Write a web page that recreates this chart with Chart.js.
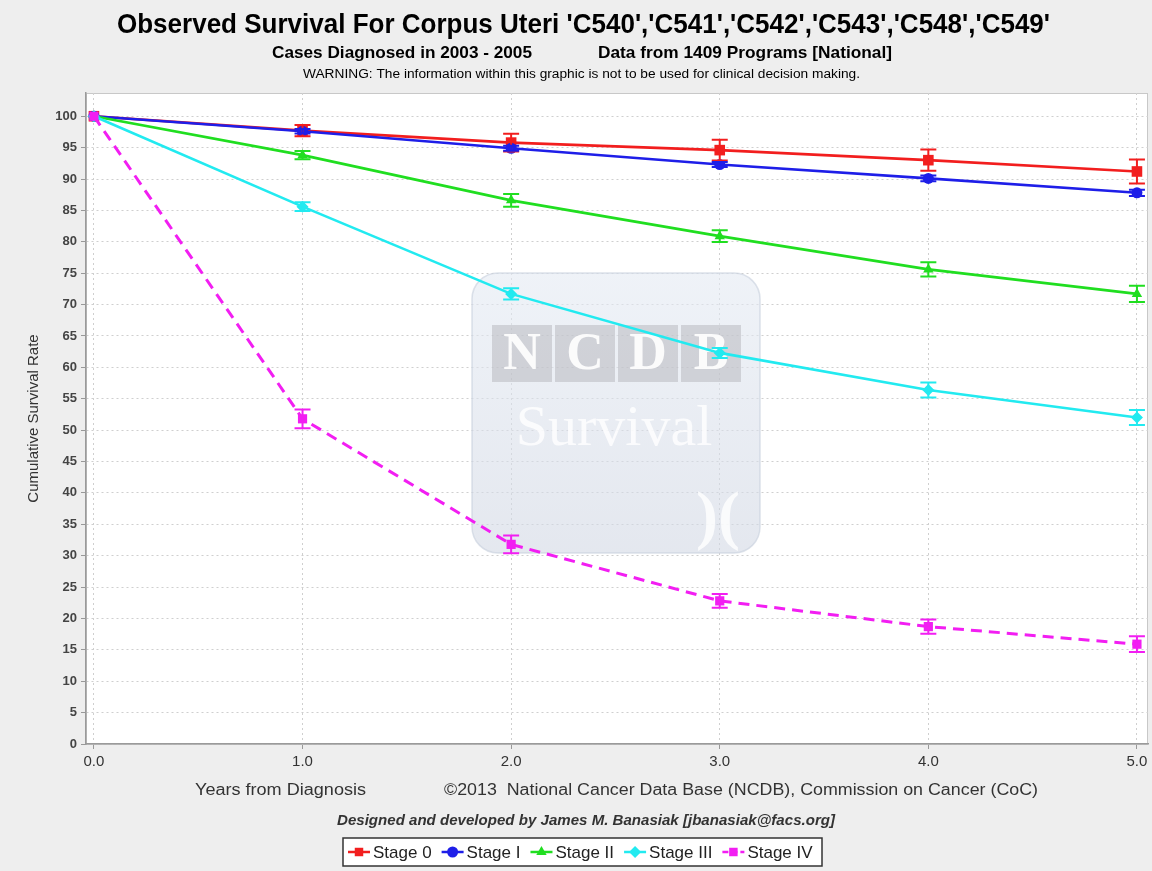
<!DOCTYPE html>
<html>
<head>
<meta charset="utf-8">
<script src="https://cdn.jsdelivr.net/npm/chart.js@4.4.0/dist/chart.umd.min.js"></script>
<style>
html, body { margin: 0; padding: 0; background: #eeeeee; }
#wrap { width: 1152px; height: 871px; }
</style>
</head>
<body>
<div id="wrap"><canvas id="survivalChart" width="1152" height="871"></canvas></div>
<script>
'use strict';
// values
let years = [0, 1, 2, 3, 4, 5];
let stageNames = ['Stage 0', 'Stage I', 'Stage II', 'Stage III', 'Stage IV'];
let stage0 = [100, 97.7, 95.8, 94.6, 93.0, 91.2];
let stage1 = [100, 97.6, 94.9, 92.3, 90.1, 87.8];
let stage2 = [100, 93.8, 86.6, 80.9, 75.6, 71.7];
let stage3 = [100, 85.6, 71.7, 62.3, 56.4, 52.0];
let stage4 = [100, 51.8, 31.8, 22.8, 18.7, 15.9];
// half width of the error bars
let stage0Err = [0, 0.9, 1.4, 1.65, 1.7, 1.9];
let stage1Err = [0, 0.35, 0.4, 0.4, 0.45, 0.5];
let stage2Err = [0, 0.65, 1.0, 0.95, 1.15, 1.3];
let stage3Err = [0, 0.7, 0.9, 0.8, 1.2, 1.2];
let stage4Err = [0, 1.5, 1.4, 1.1, 1.15, 1.25];
let yTicks = [0, 5, 10, 15, 20, 25, 30, 35, 40, 45, 50, 55, 60, 65, 70, 75, 80, 85, 90, 95, 100];

let allValues = [stage0, stage1, stage2, stage3, stage4];
let allErrors = [stage0Err, stage1Err, stage2Err, stage3Err, stage4Err];
let colors = ['#f21e1e', '#1e1ee8', '#20de20', '#22eaf0', '#f21ef2'];
let markers = ['rect', 'circle', 'triangle', 'rectRot', 'rect'];
let markerSize = [7.5, 5.5, 6, 6, 6.5];

let datasets = [];
for (let s = 0; s < stageNames.length; s++) {
  let pts = [];
  for (let i = 0; i < years.length; i++) {
    pts.push({ x: years[i], y: allValues[s][i] });
  }
  datasets.push({
    label: stageNames[s],
    data: pts,
    order: stageNames.length - s, // later stages on top, like the original
    borderColor: colors[s],
    backgroundColor: colors[s],
    borderWidth: s === 4 ? 3 : 2.6,
    borderDash: s === 4 ? [11, 7] : [],
    pointStyle: markers[s],
    pointRadius: markerSize[s],
    pointBorderWidth: 0,
    tension: 0
  });
}

function fitText(ctx, text, left, y, width, font) {
  ctx.save();
  ctx.font = font;
  let w = ctx.measureText(text).width;
  ctx.translate(left, y);
  ctx.scale(width / w, 1);
  ctx.textAlign = 'left';
  ctx.textBaseline = 'middle';
  ctx.fillText(text, 0, 0);
  ctx.restore();
}

let backgroundPlugin = {
  id: 'backgroundPlugin',
  beforeDraw(chart) {
    let ctx = chart.ctx;
    let a = chart.chartArea;
    ctx.save();
    ctx.fillStyle = '#eeeeee';
    ctx.fillRect(0, 0, chart.width, chart.height);
    ctx.fillStyle = '#ffffff';
    ctx.fillRect(a.left, a.top, a.right - a.left, a.bottom - a.top);
    ctx.strokeStyle = '#c8c8c8';
    ctx.lineWidth = 1;
    ctx.strokeRect(a.left + 0.5, a.top + 0.5, a.right - a.left - 1, a.bottom - a.top);
    ctx.restore();
  }
};

// faded NCDB Survival stamp behind the lines
let watermarkPlugin = {
  id: 'watermarkPlugin',
  beforeDatasetsDraw(chart) {
    let ctx = chart.ctx;
    ctx.save();
    let g = ctx.createLinearGradient(0, 273, 0, 553);
    g.addColorStop(0, 'rgba(228,234,243,0.6)');
    g.addColorStop(1, 'rgba(210,216,228,0.6)');
    ctx.fillStyle = g;
    ctx.strokeStyle = 'rgba(198,206,220,0.6)';
    ctx.lineWidth = 1.5;
    ctx.beginPath();
    ctx.roundRect(472, 273, 288, 280, 26);
    ctx.fill();
    ctx.stroke();
    let letters = ['N', 'C', 'D', 'B'];
    for (let i = 0; i < 4; i++) {
      let bx = 492 + i * 63;
      ctx.fillStyle = 'rgba(180,180,186,0.5)';
      ctx.fillRect(bx, 325, 60, 57);
      ctx.fillStyle = 'rgba(255,255,255,0.9)';
      ctx.font = 'bold 52px "Liberation Serif"';
      ctx.textAlign = 'center';
      ctx.textBaseline = 'middle';
      ctx.fillText(letters[i], bx + 30, 356);
    }
    ctx.fillStyle = 'rgba(255,255,255,0.8)';
    ctx.font = '58px "Liberation Serif"';
    ctx.fillText('Survival', 614, 430);
    ctx.font = 'bold 66px "Liberation Serif"';
    ctx.fillText(')(', 718, 520);
    ctx.restore();
  }
};

let errorBarPlugin = {
  id: 'errorBarPlugin',
  afterDatasetsDraw(chart) {
    let ctx = chart.ctx;
    let xs = chart.scales.x;
    let ys = chart.scales.y;
    ctx.save();
    ctx.lineWidth = 2;
    for (let s = 0; s < allValues.length; s++) {
      ctx.strokeStyle = colors[s];
      for (let i = 0; i < years.length; i++) {
        let e = allErrors[s][i];
        if (!e) continue;
        let px = xs.getPixelForValue(years[i]);
        let top = ys.getPixelForValue(allValues[s][i] + e);
        let bot = ys.getPixelForValue(allValues[s][i] - e);
        ctx.beginPath();
        ctx.moveTo(px, top); ctx.lineTo(px, bot);
        ctx.moveTo(px - 8, top); ctx.lineTo(px + 8, top);
        ctx.moveTo(px - 8, bot); ctx.lineTo(px + 8, bot);
        ctx.stroke();
      }
    }
    ctx.restore();
  }
};

let textPlugin = {
  id: 'textPlugin',
  afterDraw(chart) {
    let ctx = chart.ctx;
    ctx.save();
    ctx.fillStyle = '#000000';
    fitText(ctx, "Observed Survival For Corpus Uteri 'C540','C541','C542','C543','C548','C549'", 117, 25, 933, 'bold 28px "Liberation Sans Narrow", "Liberation Sans"');
    fitText(ctx, 'Cases Diagnosed in 2003 - 2005', 272, 53, 260, 'bold 17px "Liberation Sans Narrow", "Liberation Sans"');
    fitText(ctx, 'Data from 1409 Programs [National]', 598, 53, 294, 'bold 17px "Liberation Sans Narrow", "Liberation Sans"');
    fitText(ctx, 'WARNING: The information within this graphic is not to be used for clinical decision making.', 303, 75, 557, '12px "Liberation Sans Narrow", "Liberation Sans"');
    ctx.fillStyle = '#333333';
    fitText(ctx, 'Years from Diagnosis', 195, 791, 171, '16px "Liberation Sans"');
    fitText(ctx, '\u00a92013  National Cancer Data Base (NCDB), Commission on Cancer (CoC)', 444, 791, 594, '16px "Liberation Sans"');
    fitText(ctx, 'Designed and developed by James M. Banasiak [jbanasiak@facs.org]', 337, 821, 498, 'italic bold 14px "Liberation Sans"');

    // legend box
    ctx.fillStyle = '#ffffff';
    ctx.fillRect(343, 838, 479, 28);
    ctx.strokeStyle = '#333333';
    ctx.lineWidth = 1.5;
    ctx.strokeRect(343, 838, 479, 28);
    ctx.font = '17px "Liberation Sans"';
    ctx.textBaseline = 'middle';
    ctx.textAlign = 'left';
    let lx = 348;
    let ly = 852;
    for (let s = 0; s < stageNames.length; s++) {
      ctx.strokeStyle = colors[s];
      ctx.fillStyle = colors[s];
      ctx.lineWidth = 2.5;
      ctx.setLineDash(s === 4 ? [6, 3] : []);
      ctx.beginPath();
      ctx.moveTo(lx, ly); ctx.lineTo(lx + 22, ly);
      ctx.stroke();
      ctx.setLineDash([]);
      Chart.helpers.drawPoint(ctx, { pointStyle: markers[s], radius: Math.min(markerSize[s], 6), rotation: 0, borderWidth: 0 }, lx + 11, ly);
      lx += 25;
      ctx.fillStyle = '#222222';
      ctx.fillText(stageNames[s], lx, ly + 1);
      lx += ctx.measureText(stageNames[s]).width + 10;
    }
    ctx.restore();
  }
};

let context = document.getElementById('survivalChart').getContext('2d');
let chart = new Chart(context, {
  type: 'line',
  data: { datasets: datasets },
  plugins: [backgroundPlugin, watermarkPlugin, errorBarPlugin, textPlugin],
  options: {
    responsive: false,
    animation: false,
    layout: { autoPadding: false, padding: { left: 0, top: 93, right: 4, bottom: 97 } },
    plugins: {
      legend: { display: false },
      tooltip: { enabled: false }
    },
    scales: {
      x: {
        type: 'linear',
        min: -0.038,
        max: 5.053,
        afterBuildTicks(scale) { scale.ticks = years.map(v => ({ value: v })); },
        afterFit(scale) { scale.height = 30; },
        ticks: {
          callback: v => v.toFixed(1),
          color: '#333333',
          font: { family: 'Liberation Sans', size: 15 },
          padding: 4,
          maxRotation: 0
        },
        grid: { color: '#cfcfcf', tickColor: '#999999', tickLength: 5, lineWidth: 1 },
        border: { color: '#9a9a9a', width: 1.5, dash: [2, 3] }
      },
      y: {
        type: 'linear',
        min: 0,
        max: 103.7,
        afterBuildTicks(scale) { scale.ticks = yTicks.map(v => ({ value: v })); },
        afterFit(scale) { scale.width = 86; },
        ticks: {
          color: '#444444',
          font: { family: 'Liberation Sans', size: 13, weight: 'bold' },
          padding: 4
        },
        title: {
          display: true,
          text: 'Cumulative Survival Rate',
          color: '#333333',
          font: { family: 'Liberation Sans', size: 15 },
          padding: { top: 25, bottom: 0 }
        },
        grid: { color: '#cfcfcf', tickColor: '#999999', tickLength: 5, lineWidth: 1 },
        border: { color: '#9a9a9a', width: 1.5, dash: [2, 3] }
      }
    }
  }
});
</script>
</body>
</html>
